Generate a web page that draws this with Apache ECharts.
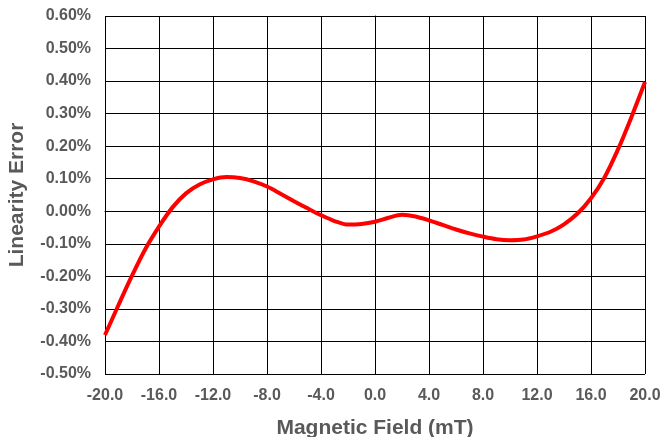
<!DOCTYPE html>
<html>
<head>
<meta charset="utf-8">
<script src="https://cdn.jsdelivr.net/npm/echarts@6/dist/echarts.min.js"></script>
<style>
  html, body { margin: 0; padding: 0; background: #fff; }
  #chart { width: 662px; height: 437px; }
</style>
</head>
<body>
<div id="chart"></div>
<script>
// magnetic field (mT) and linearity error (%), 1 mT steps
const fieldValues = [-20, -19, -18, -17, -16, -15, -14, -13, -12, -11, -10, -9, -8, -7, -6, -5, -4, -3, -2, -1, 0,
  1, 2, 3, 4, 5, 6, 7, 8, 9, 10, 11, 12, 13, 14, 15, 16, 17, 18, 19, 20];
const errorValues = [-0.38, -0.288, -0.198, -0.115, -0.047, 0.012, 0.055, 0.082, 0.098, 0.105, 0.102, 0.092, 0.076, 0.054, 0.031, 0.009, -0.012, -0.03, -0.041, -0.039, -0.032,
  -0.02, -0.011, -0.016, -0.028, -0.042, -0.056, -0.068, -0.078, -0.086, -0.089, -0.087, -0.077, -0.063, -0.04, -0.007, 0.04, 0.104, 0.19, 0.29, 0.397];

const chart = echarts.init(document.getElementById('chart'));

const labelFont = {
  color: '#595959',
  fontFamily: 'Liberation Sans, Arial, sans-serif',
  fontWeight: 'bold',
  fontSize: 16
};

const option = {
  animation: false,
  grid: { left: 105, right: 17, top: 16, bottom: 63, outerBoundsMode: 'none' },
  xAxis: {
    type: 'value',
    min: -20,
    max: 20,
    interval: 4,
    name: 'Magnetic Field (mT)',
    nameLocation: 'middle',
    nameGap: 44,
    nameTextStyle: { ...labelFont, fontSize: 21 },
    axisLine: { show: true, lineStyle: { color: '#000', width: 1 } },
    axisTick: { show: false },
    axisLabel: { ...labelFont, margin: 14, formatter: v => v.toFixed(1) },
    splitLine: { show: true, lineStyle: { color: '#000', width: 1 } }
  },
  yAxis: {
    type: 'value',
    min: -0.5,
    max: 0.6,
    interval: 0.1,
    name: 'Linearity Error',
    nameLocation: 'middle',
    nameGap: 77,
    nameTextStyle: { ...labelFont, fontSize: 21 },
    axisLine: { show: true, lineStyle: { color: '#000', width: 1 } },
    axisTick: { show: false },
    axisLabel: { ...labelFont, margin: 14, formatter: v => v.toFixed(2) + '%' },
    splitLine: { show: true, lineStyle: { color: '#000', width: 1 } }
  },
  series: [{
    type: 'line',
    data: fieldValues.map((x, i) => [x, errorValues[i]]),
    smooth: 0.3,
    showSymbol: false,
    lineStyle: { color: '#ff0000', width: 4 }
  }]
};

chart.setOption(option);
</script>
</body>
</html>
